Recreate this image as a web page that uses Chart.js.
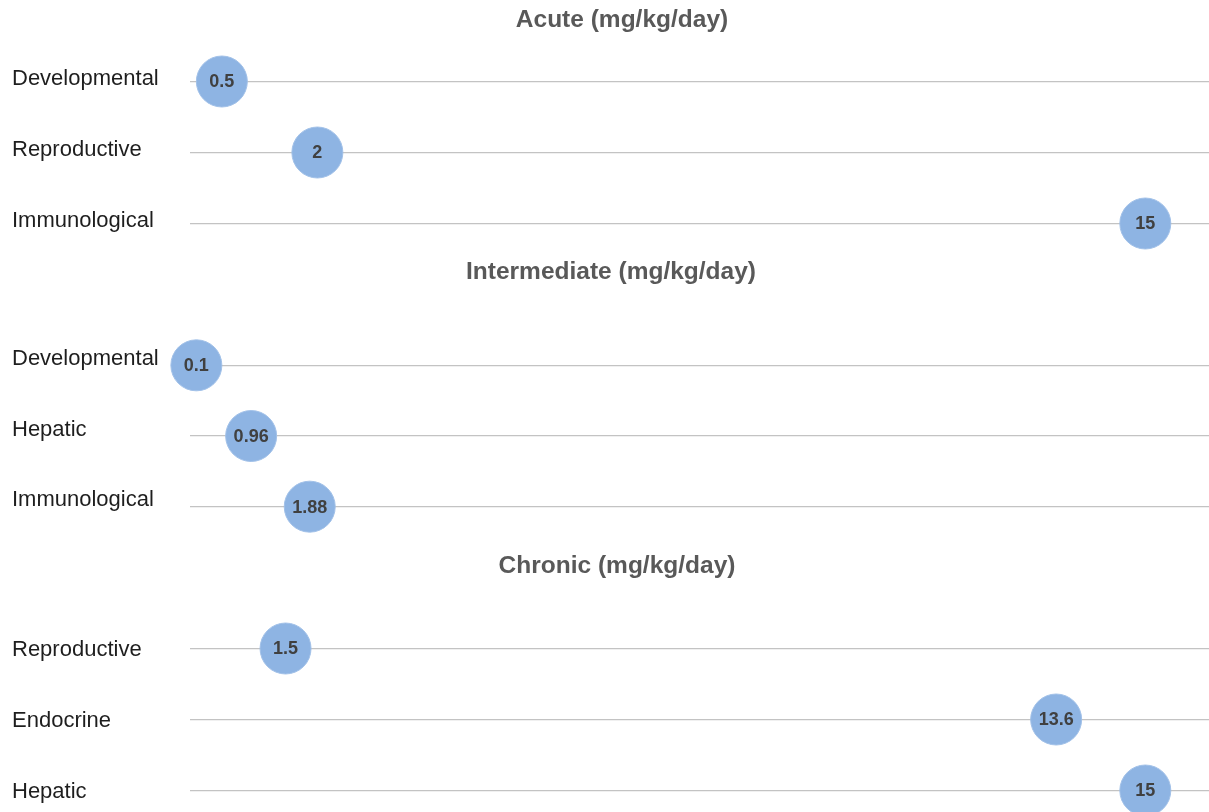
<!DOCTYPE html>
<html>
<head>
<meta charset="utf-8">
<script src="https://cdn.jsdelivr.net/npm/chart.js@4.4.1/dist/chart.umd.min.js"></script>
<style>
  html, body { margin: 0; padding: 0; background: #ffffff; overflow: hidden; }
  body { width: 1209px; height: 812px; position: relative; }
  .sec { position: absolute; left: 0; width: 1209px; }
</style>
</head>
<body>
<div class="sec" id="s1"><canvas id="c1"></canvas></div>
<div class="sec" id="s2"><canvas id="c2"></canvas></div>
<div class="sec" id="s3"><canvas id="c3"></canvas></div>
<script>
// ---- data ----
const sectionTitles = ['Acute (mg/kg/day)', 'Intermediate (mg/kg/day)', 'Chronic (mg/kg/day)'];
const acuteCategories = ['Developmental', 'Reproductive', 'Immunological'];
const acuteValues = [0.5, 2, 15];
const intermediateCategories = ['Developmental', 'Hepatic', 'Immunological'];
const intermediateValues = [0.1, 0.96, 1.88];
const chronicCategories = ['Reproductive', 'Endocrine', 'Hepatic'];
const chronicValues = [1.5, 13.6, 15];
const xMin = 0;
const xMax = 16;

// ---- layout / style ----
const FONT = '"Liberation Sans", Arial, sans-serif';
const layouts = [
  { top: 0,   height: 259, padTop: 46, titleX: 622, titleY: 20, labelOffset: -2.4 },
  { top: 250, height: 292, padTop: 80, titleX: 611, titleY: 22, labelOffset: -6.5 },
  { top: 546, height: 280, padTop: 67, titleX: 617, titleY: 20, labelOffset: 1 }
];

const sectionTitlePlugin = {
  id: 'sectionTitle',
  afterDraw(chart, args, opts) {
    const ctx = chart.ctx;
    ctx.save();
    ctx.font = 'bold 24.5px ' + FONT;
    ctx.fillStyle = '#595959';
    ctx.textAlign = 'center';
    ctx.textBaseline = 'middle';
    ctx.fillText(opts.text, opts.x, opts.y);
    ctx.restore();
  }
};

const bubbleLabelPlugin = {
  id: 'bubbleLabels',
  afterDatasetsDraw(chart) {
    const ctx = chart.ctx;
    ctx.save();
    ctx.font = 'bold 18px ' + FONT;
    ctx.fillStyle = '#404040';
    ctx.textAlign = 'center';
    ctx.textBaseline = 'middle';
    chart.data.datasets.forEach((ds, di) => {
      const meta = chart.getDatasetMeta(di);
      meta.data.forEach((el, i) => {
        ctx.fillText(String(ds.data[i].x), el.x, el.y + 1);
      });
    });
    ctx.restore();
  }
};

function makeChart(idx, canvasId, categories, values) {
  const L = layouts[idx];
  const div = document.getElementById('s' + (idx + 1));
  div.style.top = L.top + 'px';
  div.style.height = L.height + 'px';
  const canvas = document.getElementById(canvasId);
  canvas.width = 1209;
  canvas.height = L.height;
  canvas.style.width = '1209px';
  canvas.style.height = L.height + 'px';
  return new Chart(canvas, {
    type: 'bubble',
    data: {
      datasets: [{
        data: categories.map((c, i) => ({ x: values[i], y: c })),
        radius: 25.5,
        backgroundColor: '#8eb4e3',
        borderColor: '#a2c1e8',
        borderWidth: 1,
        clip: false
      }]
    },
    options: {
      responsive: false,
      animation: false,
      events: [],
      layout: { autoPadding: false, padding: { left: 12, right: 0, top: L.padTop, bottom: 0 } },
      plugins: {
        legend: { display: false },
        tooltip: { enabled: false },
        title: { display: false },
        sectionTitle: { text: sectionTitles[idx], x: L.titleX, y: L.titleY }
      },
      scales: {
        x: { type: 'linear', min: xMin, max: xMax, display: false },
        y: {
          type: 'category',
          labels: categories,
          offset: true,
          position: 'left',
          border: { display: false },
          grid: { color: '#c3c3c3', lineWidth: 1.2, drawTicks: false, offset: false },
          ticks: {
            crossAlign: 'far',
            padding: 0,
            labelOffset: L.labelOffset,
            color: '#1e1e1e',
            font: { family: FONT, size: 22 }
          },
          afterFit(scale) {
            scale.width = 178;
            scale.paddingTop = 0;
            scale.paddingBottom = 0;
          }
        }
      }
    },
    plugins: [sectionTitlePlugin, bubbleLabelPlugin]
  });
}

makeChart(0, 'c1', acuteCategories, acuteValues);
makeChart(1, 'c2', intermediateCategories, intermediateValues);
makeChart(2, 'c3', chronicCategories, chronicValues);
</script>
</body>
</html>
